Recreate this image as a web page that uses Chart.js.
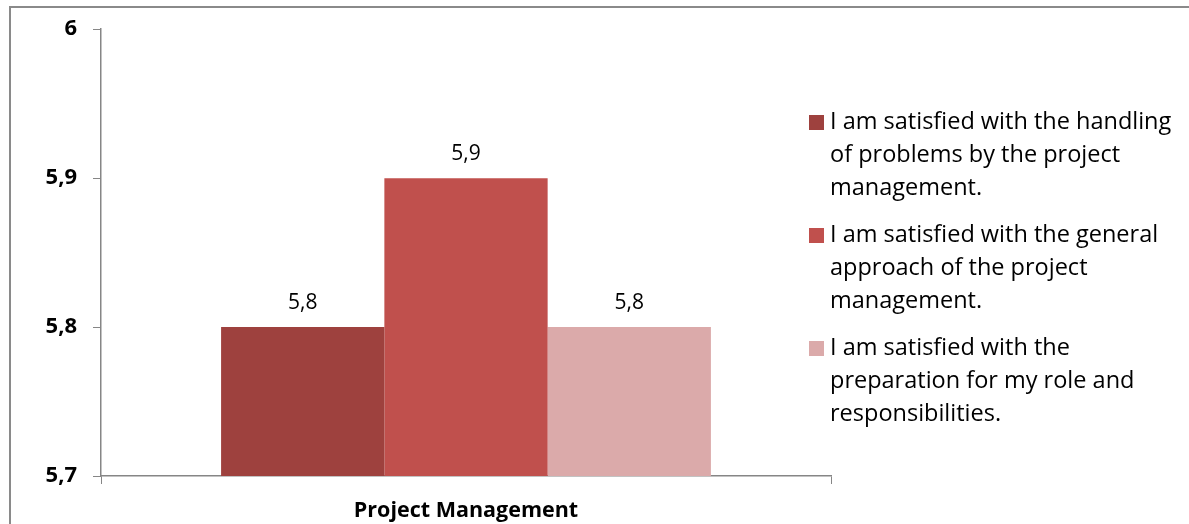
<!DOCTYPE html>
<html>
<head>
<meta charset="utf-8">
<script src="https://cdn.jsdelivr.net/npm/chart.js@4.4.1/dist/chart.umd.min.js"></script>
<style>
  html, body { margin: 0; padding: 0; background: #fff; }
  #wrap { position: relative; width: 1189px; height: 524px; }
  canvas { display: block; }
</style>
</head>
<body>
<div id="wrap"><canvas id="c" width="1189" height="524"></canvas></div>
<script>
const categories = ["Project Management"];
const seriesNames = [
  "I am satisfied with the handling of problems by the project management.",
  "I am satisfied with the general approach of the project management.",
  "I am satisfied with the preparation for my role and responsibilities."
];
const seriesValues = [[5.8], [5.9], [5.8]];
const seriesColors = ["#9E413E", "#C0504D", "#DBAAAA"];
const yTicks = [5.7, 5.8, 5.9, 6];

const fmt = v => String(Number(v.toFixed(1))).replace('.', ',');
const FONT = "'Open Sans', 'DejaVu Sans', sans-serif";

const borderPlugin = {
  id: 'outerBorder',
  beforeDraw(chart) {
    const ctx = chart.ctx;
    ctx.save();
    ctx.strokeStyle = '#8A8A8A';
    ctx.lineWidth = 2;
    ctx.beginPath();
    ctx.moveTo(10, chart.height + 5);
    ctx.lineTo(10, 7);
    ctx.lineTo(chart.width + 5, 7);
    ctx.stroke();
    ctx.restore();
  }
};

const labelPlugin = {
  id: 'valueLabels',
  afterDatasetsDraw(chart) {
    const ctx = chart.ctx;
    ctx.save();
    ctx.font = "21px " + FONT;
    ctx.fillStyle = '#000';
    ctx.textAlign = 'center';
    ctx.textBaseline = 'middle';
    chart.data.datasets.forEach((ds, i) => {
      chart.getDatasetMeta(i).data.forEach((bar, j) => {
        ctx.fillText(fmt(ds.data[j]), bar.x, bar.y - 24);
      });
    });
    ctx.restore();
  }
};

const legendPlugin = {
  id: 'wrapLegend',
  afterDraw(chart) {
    const ctx = chart.ctx;
    ctx.save();
    ctx.font = "23.5px " + FONT;
    ctx.textBaseline = 'middle';
    ctx.textAlign = 'left';
    const boxX = 809, textX = 830, maxW = 350, lineH = 33, gap = 14;
    let y = 122;
    chart.data.datasets.forEach((ds) => {
      const words = ds.label.split(' ');
      const lines = [];
      let cur = '';
      words.forEach(w => {
        const t = cur ? cur + ' ' + w : w;
        if (ctx.measureText(t).width > maxW && cur) { lines.push(cur); cur = w; }
        else cur = t;
      });
      if (cur) lines.push(cur);
      ctx.fillStyle = ds.backgroundColor;
      ctx.fillRect(boxX, y - 7, 15, 15);
      ctx.fillStyle = '#000';
      lines.forEach((ln, k) => ctx.fillText(ln, textX, y + k * lineH));
      y += lines.length * lineH + gap;
    });
    ctx.restore();
  }
};

new Chart(document.getElementById('c'), {
  type: 'bar',
  data: {
    labels: categories,
    datasets: seriesNames.map((name, i) => ({
      label: name,
      data: seriesValues[i],
      backgroundColor: seriesColors[i],
      borderWidth: 0,
      categoryPercentage: 0.671,
      barPercentage: 1.0
    }))
  },
  options: {
    responsive: false,
    animation: false,
    events: [],
    layout: { padding: { top: 29, right: 358, left: 0, bottom: 0 } },
    plugins: {
      legend: { display: false },
      tooltip: { enabled: false },
      title: { display: false }
    },
    scales: {
      x: {
        grid: { display: true, drawOnChartArea: false, drawTicks: true, tickLength: 8, color: '#868686', offset: true },
        border: { display: true, color: '#868686', width: 1.5 },
        ticks: { font: { family: FONT, size: 21.5, weight: 'bold' }, color: '#000', padding: 14 },
        afterFit(scale) { scale.height = 48; }
      },
      y: {
        min: 5.7,
        max: 6,
        afterBuildTicks(scale) { scale.ticks = yTicks.map(v => ({ value: v })); },
        grid: { display: true, drawOnChartArea: false, drawTicks: true, tickLength: 8, color: '#868686' },
        border: { display: true, color: '#868686', width: 1.5 },
        ticks: { font: { family: FONT, size: 22, weight: 'bold' }, color: '#000', padding: 16, callback: v => fmt(v) },
        afterFit(scale) { scale.width = 101; }
      }
    }
  },
  plugins: [borderPlugin, labelPlugin, legendPlugin]
});
</script>
</body>
</html>
